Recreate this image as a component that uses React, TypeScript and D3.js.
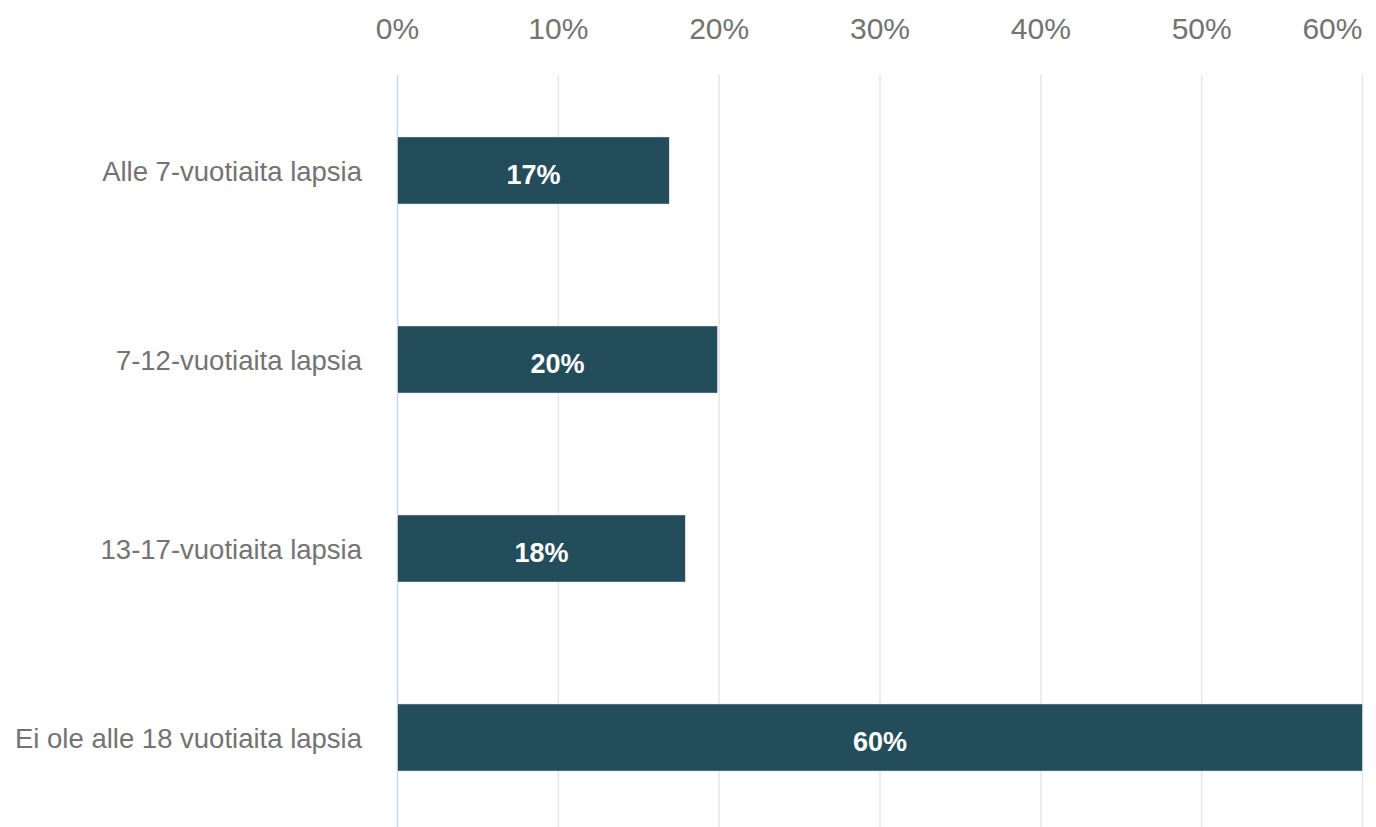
import React from "react";
import * as d3 from "d3";

const categories = [
  "Alle 7-vuotiaita lapsia",
  "7-12-vuotiaita lapsia",
  "13-17-vuotiaita lapsia",
  "Ei ole alle 18 vuotiaita lapsia",
];
const values = [16.9, 19.9, 17.9, 60];
const labels = ["17%", "20%", "18%", "60%"];
const ticks = [0, 10, 20, 30, 40, 50, 60];

const W = 1376;
const H = 827;
const FONT = "'Liberation Sans', Arial, sans-serif";

export default function App() {
  const x = d3.scaleLinear().domain([0, 60]).range([397.5, 1362.5]);
  const y = d3
    .scaleBand()
    .domain(categories)
    .range([76, 832])
    .paddingInner(0.645)
    .paddingOuter(0.3225);

  return (
    <svg
      width={W}
      height={H}
      style={{ position: "absolute", left: 0, top: 0, background: "#fff" }}
    >
      {ticks.map((t, i) => {
        const last = i === ticks.length - 1;
        return (
          <g key={t}>
            <line
              x1={x(t)}
              x2={x(t)}
              y1={75}
              y2={H}
              stroke={t === 0 ? "#ccd6eb" : "#e6e6e6"}
              strokeWidth={1.5}
            />
            <text
              x={last ? x(t) : x(t)}
              y={39}
              textAnchor={last ? "end" : "middle"}
              fontFamily={FONT}
              fontSize={30}
              fill="#737373"
            >
              {t}%
            </text>
          </g>
        );
      })}
      {categories.map((c, i) => {
        const yc = (y(c) as number) + y.bandwidth() / 2;
        return (
          <g key={c}>
            <rect
              x={x(0)}
              y={y(c)}
              width={x(values[i]) - x(0)}
              height={y.bandwidth()}
              fill="#234d5a"
              stroke="#fff"
              strokeWidth={0.5}
            />
            <text
              x={362}
              y={yc + 10}
              textAnchor="end"
              fontFamily={FONT}
              fontSize={27.5}
              fill="#737373"
            >
              {c}
            </text>
            <text
              x={(x(0) + x(values[i])) / 2}
              y={yc + 13}
              textAnchor="middle"
              fontFamily={FONT}
              fontSize={27}
              fontWeight="bold"
              fill="#fff"
            >
              {labels[i]}
            </text>
          </g>
        );
      })}
    </svg>
  );
}
